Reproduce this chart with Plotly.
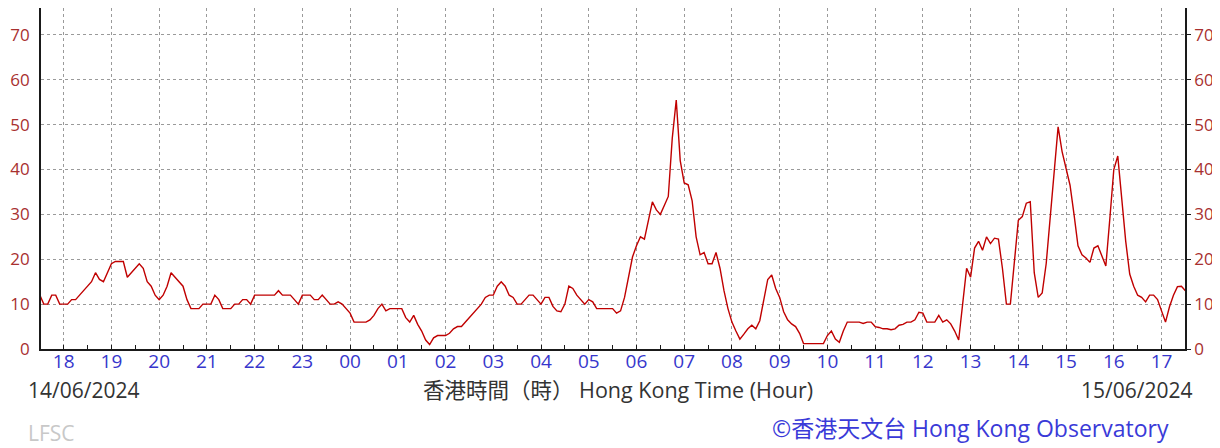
import pandas as pd
import plotly.graph_objects as go

# ---- data (5-minute values, 14/06/2024 17:30 -> 15/06/2024 17:30) ----
start_time = "2024-06-14 17:30"
interval = "5min"
values = [
    12, 10, 10, 12, 12, 10,                                   # 17:30-17:55
    10, 10, 11, 11, 12, 13, 14, 15, 17, 15.5, 15, 17,         # 18
    19, 19.5, 19.5, 19.5, 16, 17, 18, 19, 18, 15, 14, 12,     # 19
    11, 12, 14, 17, 16, 15, 14, 11, 9, 9, 9, 10,              # 20
    10, 10, 12, 11, 9, 9, 9, 10, 10, 11, 11, 10,              # 21
    12, 12, 12, 12, 12, 12, 13, 12, 12, 12, 11, 10,           # 22
    12, 12, 12, 11, 11, 12, 11, 10, 10, 10.5, 10, 9,          # 23
    8, 6, 6, 6, 6, 6.5, 7.5, 9, 10, 8.5, 9, 9,                # 00
    9, 9, 7, 6, 7.5, 5.5, 4, 2, 1, 2.5, 3, 3,                 # 01
    3, 3.5, 4.5, 5, 5, 6, 7, 8, 9, 10, 11.5, 12,              # 02
    12, 14, 15, 14, 12, 11.5, 10, 10, 11, 12, 12, 11,         # 03
    10, 11.5, 11.5, 9.5, 8.5, 8.3, 10, 14, 13.5, 12, 11, 10,  # 04
    11, 10.5, 9, 9, 9, 9, 9, 8, 8.5, 11.5, 16, 20.5,          # 05
    23, 25, 24.5, 29, 32.8, 31, 30, 32, 34, 47, 55.5, 42,     # 06
    37, 36.6, 33, 25, 21, 21.5, 19, 19, 21.5, 18, 13, 9,      # 07
    6, 4, 2.2, 3.3, 4.5, 5.3, 4.5, 6.3, 11, 15.5, 16.5, 13.5, # 08
    11.5, 8.3, 6.5, 5.6, 5, 3.5, 1.2, 1.2, 1.2, 1.2, 1.2, 1.2,  # 09
    3, 4, 2.2, 1.5, 4, 6, 6, 6, 6, 5.7, 6, 6,                 # 10
    5, 4.8, 4.5, 4.5, 4.3, 4.5, 5.3, 5.5, 6, 6, 6.5, 8.2,     # 11
    8, 6, 6, 6, 7.5, 6, 6.5, 5.6, 4, 2, 10, 18,               # 12
    16, 22.5, 24, 22, 25, 23.5, 24.7, 24.5, 18, 10, 10, 19,   # 13
    28.7, 29.5, 32.5, 32.8, 17, 11.5, 12.5, 19, 29.5, 40, 49.5, 44,  # 14
    40, 36.5, 30, 23, 21, 20.3, 19.3, 22.5, 23, 20.5, 18.5, 29,      # 15
    40, 43, 34, 24, 16.7, 14, 12, 11.5, 10.5, 12, 12, 11,     # 16
    8.5, 6, 9.4, 12, 13.9, 14, 13,                            # 17:00-17:30
]
y_ticks = [0, 10, 20, 30, 40, 50, 60, 70]
x_range = ["2024-06-14 17:31:30", "2024-06-15 17:29:30"]
y_range = [0, 76]
date_left = "14/06/2024"
date_right = "15/06/2024"
axis_title = "香港時間（時） Hong Kong Time (Hour)"
credit = "©香港天文台 Hong Kong Observatory"
tag = "LFSC"

times = pd.date_range(start=start_time, periods=len(values), freq=interval)

FONT = "Open Sans, Noto Sans CJK TC, sans-serif"
RED_TXT = "#a8302f"
BLUE_TXT = "#3636cc"

# the page body has an 8px default margin: lay the figure out in page pixels
OFF = 8
W, H = 1220 - OFF, 448 - OFF
PL, PR, PT, PB = 41, 1185, 8, 349          # plot box in page pixels

fig = go.Figure()
fig.add_trace(go.Scatter(x=times, y=values, mode="lines",
                         line=dict(color="#c00000", width=1.4),
                         showlegend=False, hoverinfo="x+y"))
# invisible twin to carry the right-hand axis
fig.add_trace(go.Scatter(x=times, y=values, mode="lines", yaxis="y2",
                         line=dict(color="rgba(0,0,0,0)", width=0),
                         showlegend=False, hoverinfo="skip"))

fig.update_layout(
    width=W, height=H,
    margin=dict(l=PL - OFF, r=W - (PR - OFF), t=PT - OFF, b=H - (PB - OFF), pad=0,
                autoexpand=False),
    paper_bgcolor="white", plot_bgcolor="white",
    font=dict(family=FONT),
    xaxis=dict(
        type="date", range=x_range,
        tick0="2024-06-14 18:00", dtick=3600000, tickformat="%H",
        showgrid=True, gridcolor="#9a9a9a", griddash="dot", gridwidth=1,
        showline=True, linecolor="#1a1a1a", linewidth=1.6,
        ticks="inside", ticklen=4, tickcolor="#1a1a1a",
        ticklabelstandoff=-6,
        tickfont=dict(size=19, color=BLUE_TXT, family=FONT),
        minor=dict(tick0="2024-06-14 17:30", dtick=1800000, ticks="inside",
                   ticklen=4, tickcolor="#1a1a1a", showgrid=False),
        zeroline=False, fixedrange=True,
    ),
    yaxis=dict(
        range=y_range, tickvals=y_ticks,
        showgrid=True, gridcolor="#9a9a9a", griddash="dot", gridwidth=1,
        showline=True, linecolor="#1a1a1a", linewidth=1.6,
        ticks="", ticklabelstandoff=6,
        tickfont=dict(size=17, color=RED_TXT, family=FONT),
        zeroline=False, fixedrange=True,
    ),
    yaxis2=dict(
        range=y_range, tickvals=y_ticks, overlaying="y", side="right",
        showgrid=False, showline=True, linecolor="#1a1a1a", linewidth=1.6,
        ticks="outside", ticklen=4, tickcolor="#1a1a1a",
        tickfont=dict(size=17, color=RED_TXT, family=FONT),
        zeroline=False, fixedrange=True,
    ),
)

# text below the chart (paper coordinates from page-pixel positions)
PW, PH = PR - PL, PB - PT
def px(x):
    return (x - PL) / PW
def py(y):
    return (PB - y) / PH

fig.add_annotation(text=date_left, x=px(26), y=py(390), xref="paper", yref="paper",
                   xanchor="left", yanchor="middle", showarrow=False,
                   font=dict(size=21, color="#333333", family=FONT))
fig.add_annotation(text=date_right, x=px(1194), y=py(390), xref="paper", yref="paper",
                   xanchor="right", yanchor="middle", showarrow=False,
                   font=dict(size=21, color="#333333", family=FONT))
fig.add_annotation(text=axis_title, x=px(618), y=py(390), xref="paper", yref="paper",
                   xanchor="center", yanchor="middle", showarrow=False,
                   font=dict(size=21.5, color="#333333", family=FONT))
fig.add_annotation(text=credit, x=px(1171), y=py(428), xref="paper", yref="paper",
                   xanchor="right", yanchor="middle", showarrow=False,
                   font=dict(size=23, color="#3a3ad8", family=FONT))
fig.add_annotation(text=tag, x=px(26), y=py(433), xref="paper", yref="paper",
                   xanchor="left", yanchor="middle", showarrow=False,
                   font=dict(size=21, color="#c8c8c8", family=FONT))

fig.write_html("out.html", config={"displayModeBar": False})
